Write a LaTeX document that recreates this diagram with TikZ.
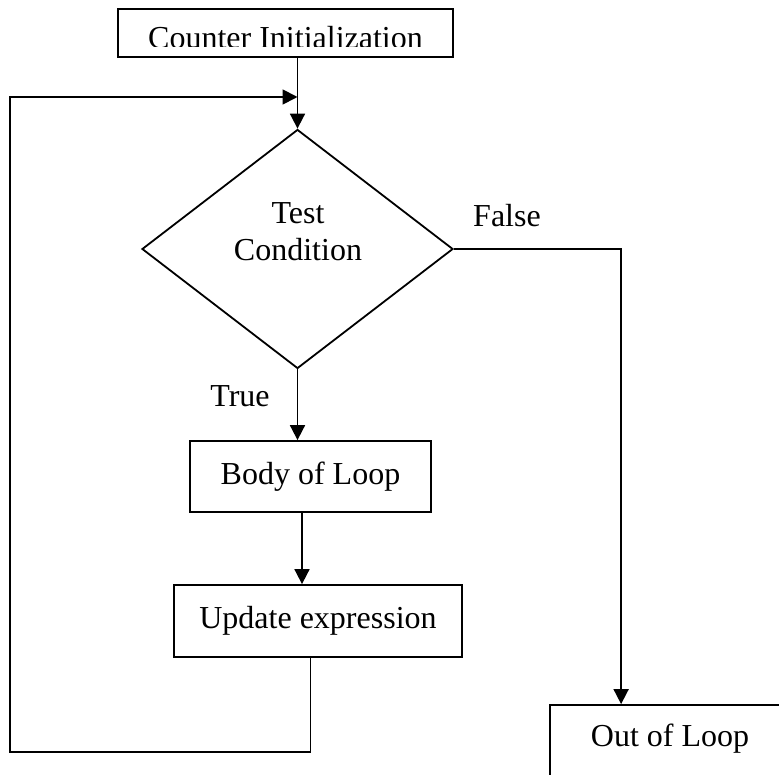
\documentclass[tikz,border=0pt]{standalone}
\usepackage{fontspec}
\setmainfont{Liberation Serif}
\usetikzlibrary{shapes.geometric,arrows.meta}
\tikzset{
    stepbox/.style={draw, line width=0.9pt, inner sep=0pt},
    decision/.style={diamond, draw, line width=0.9pt, inner sep=0pt, minimum width=155.5pt, minimum height=119.5pt},
    arr/.style={line width=0.9pt, -{Triangle[length=7.5pt,width=7.5pt]}},
}
\begin{document}
\begin{tikzpicture}[x=0.5pt,y=-0.5pt,font=\fontsize{16}{18.5}\selectfont]
    \useasboundingbox (0,0) rectangle (779,774);
    %boxes
    \node[stepbox, minimum width=167.5pt, minimum height=24pt] (init) at (285.5,33) {};
    \begin{scope}
        \clip (118,9) rectangle (453,47);
        \node (inittxt) at (285.5,38) {Counter Initialization};
    \end{scope}
    \node[decision] (test) at (297.5,249) {};
    \node[align=center] (testtxt) at (298,232) {Test\\Condition};
    \node[stepbox, minimum width=120.5pt, minimum height=35.5pt] (body) at (310.5,476.5) {Body of Loop};
    \node[stepbox, minimum width=144pt, minimum height=36pt] (upd) at (318,621) {Update expression};
    \node[stepbox, minimum width=120pt, minimum height=40pt] (out) at (670,745) {};
    \node (outtxt) at (670,739) {Out of Loop};
    %labels
    \node (truelbl) at (240,396.5) {True};
    \node (falselbl) at (507,216) {False};
    %arrows
    \draw[arr] (init.south -| test.north) -- (test.north);
    \draw[arr] (test.south) -- (test.south |- body.north);
    \draw[arr] ([xshift=-4.25pt]body.south) -- ([xshift=-4.25pt]body.south |- upd.north);
    \draw[arr] (test.east) -| ([xshift=36pt]out.north west);
    %loop back
    \coordinate (back) at (10,752);
    \coordinate (backtop) at (10,97);
    \draw[arr] (upd.south -| body.south) |- (back) -- (backtop) -- (backtop -| test.north);
\end{tikzpicture}
\end{document}
